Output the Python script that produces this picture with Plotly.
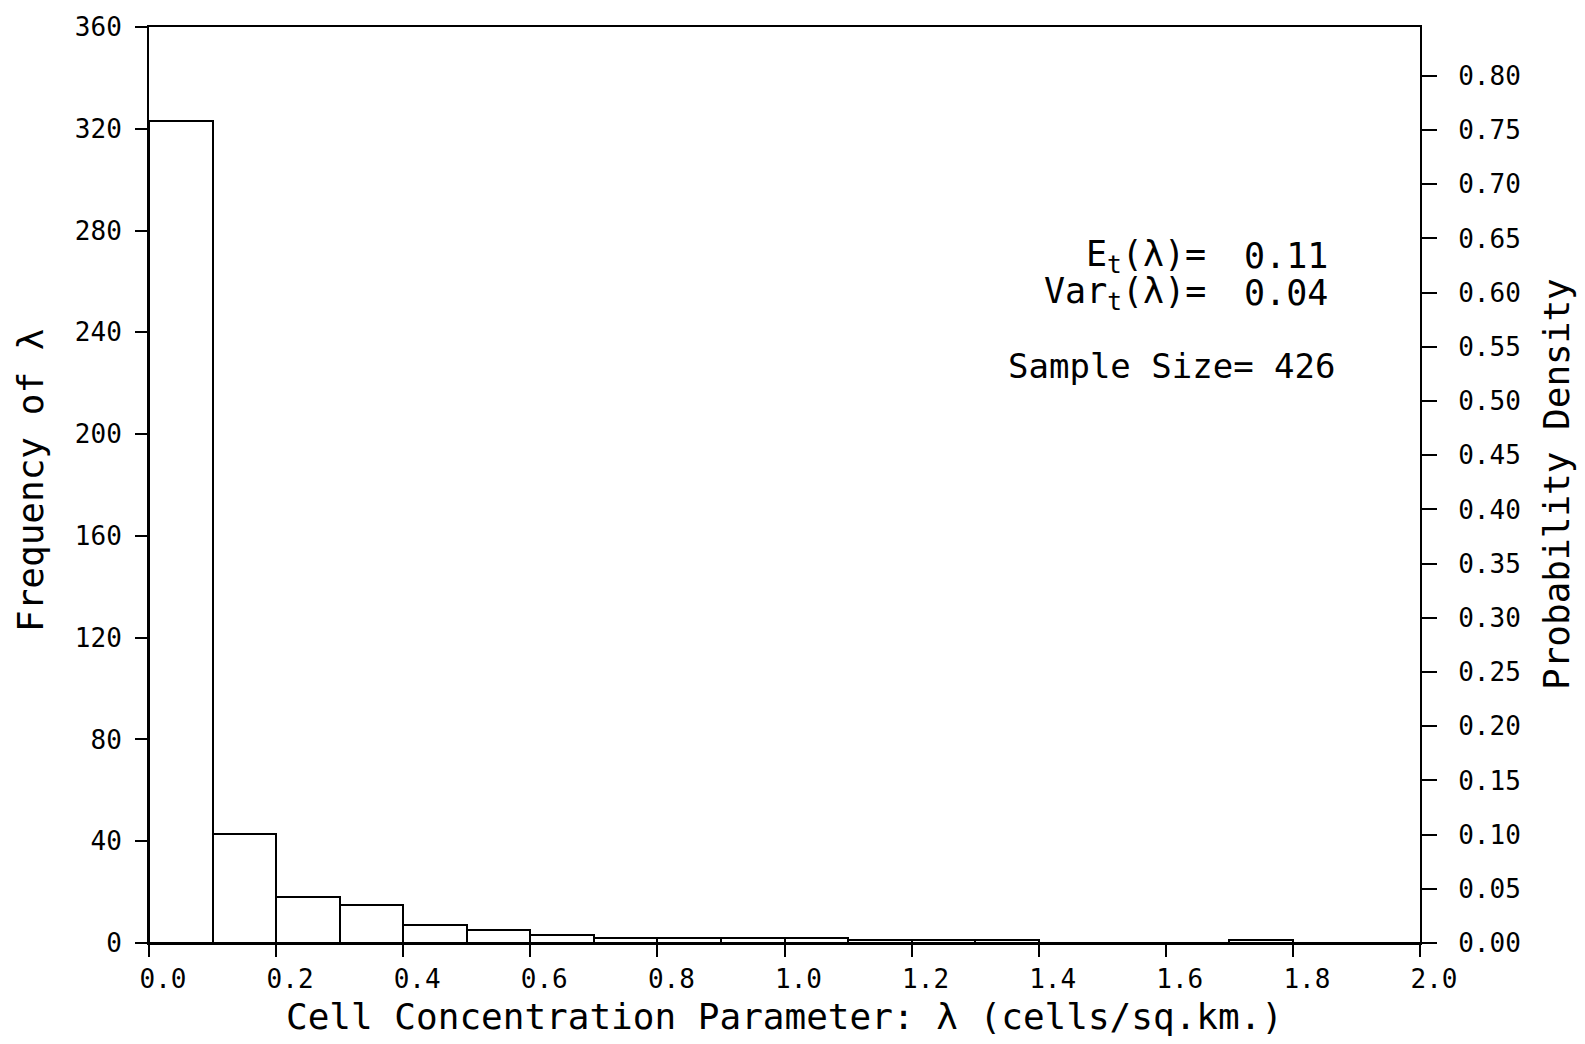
import plotly.graph_objects as go

# Histogram of the cell concentration parameter (bin width 0.1)
bin_left = [0.0, 0.1, 0.2, 0.3, 0.4, 0.5, 0.6, 0.7, 0.8, 0.9,
            1.0, 1.1, 1.2, 1.3, 1.4, 1.5, 1.6, 1.7, 1.8, 1.9]
frequency = [323, 43, 18, 15, 7, 5, 3, 2, 2, 2,
             2, 1, 1, 1, 0, 0, 0, 1, 0, 0]
sample_size = 426
bin_width = 0.1

freq_ticks = [0, 40, 80, 120, 160, 200, 240, 280, 320, 360]
x_ticks = [0.0, 0.2, 0.4, 0.6, 0.8, 1.0, 1.2, 1.4, 1.6, 1.8, 2.0]
prob_ticks = [0.00, 0.05, 0.10, 0.15, 0.20, 0.25, 0.30, 0.35, 0.40,
              0.45, 0.50, 0.55, 0.60, 0.65, 0.70, 0.75, 0.80]

stats_labels = ["E<sub>t</sub>(λ)=", "Var<sub>t</sub>(λ)="]
stats_values = ["0.11", "0.04"]

FONT = "DejaVu Sans Mono"
centers = [b + bin_width / 2 for b in bin_left]
prob = [f / sample_size for f in frequency]

fig = go.Figure()
fig.add_trace(go.Bar(
    x=centers, y=frequency, width=bin_width,
    marker=dict(color="white", line=dict(color="black", width=2)),
    hoverinfo="x+y", showlegend=False,
))
# Same bins on the probability scale (right axis), kept invisible
fig.add_trace(go.Bar(
    x=centers, y=prob, width=bin_width, yaxis="y2",
    marker=dict(color="rgba(0,0,0,0)", line=dict(width=0)),
    hoverinfo="skip", showlegend=False,
))

fig.update_layout(
    width=1585, height=1044,
    margin=dict(l=149, r=165, t=21, b=101),
    paper_bgcolor="white", plot_bgcolor="white",
    font=dict(family=FONT, color="black", size=26),
    bargap=0, barmode="overlay",
    xaxis=dict(
        range=[0, 2.0], tickvals=x_ticks, tickformat=".1f",
        showline=True, linecolor="black", linewidth=2, mirror=True,
        ticks="outside", ticklen=12, tickwidth=2, tickcolor="black",
        showgrid=False, zeroline=False, ticklabelshift=14,
        tickfont=dict(family=FONT, size=26),
    ),
    yaxis=dict(
        range=[0, 360], tickvals=freq_ticks,
        showline=True, linecolor="black", linewidth=2,
        ticks="outside", ticklen=12, tickwidth=2, tickcolor="black",
        showgrid=False, zeroline=False, ticklabelstandoff=8,
        tickfont=dict(family=FONT, size=26),
    ),
    yaxis2=dict(
        range=[0, 360 / sample_size], tickvals=prob_ticks, tickformat=".2f",
        overlaying="y", side="right", anchor="x",
        showline=True, linecolor="black", linewidth=2,
        ticks="outside", ticklen=15, tickwidth=2, tickcolor="black",
        showgrid=False, zeroline=False, ticklabelstandoff=16,
        tickfont=dict(family=FONT, size=26),
    ),
)

# Plot-area geometry in pixels, used to place text in paper units
X0, X1, Y0, Y1 = 149, 1420, 943, 21


def px(x):
    return (x - X0) / (X1 - X0)


def py(y):
    return (Y0 - y) / (Y0 - Y1)


title_font = dict(family=FONT, size=36, color="black")

fig.add_annotation(text="Cell Concentration Parameter: λ (cells/sq.km.)",
                   xref="paper", yref="paper", x=px(784), y=py(1017),
                   xanchor="center", yanchor="middle", showarrow=False,
                   font=title_font)
fig.add_annotation(text="Frequency of λ", textangle=-90,
                   xref="paper", yref="paper", x=px(30), y=py(478),
                   xanchor="center", yanchor="middle", showarrow=False,
                   font=title_font)
fig.add_annotation(text="Probability Density", textangle=-90,
                   xref="paper", yref="paper", x=px(1556), y=py(481),
                   xanchor="center", yanchor="middle", showarrow=False,
                   font=title_font)

for i, (lab, val) in enumerate(zip(stats_labels, stats_values)):
    yc = 252 + 37 * i
    fig.add_annotation(text=lab, xref="paper", yref="paper",
                       x=px(1208), y=py(yc), xanchor="right", yanchor="middle",
                       showarrow=False, font=dict(family=FONT, size=35))
    fig.add_annotation(text=val, xref="paper", yref="paper",
                       x=px(1242), y=py(yc), xanchor="left", yanchor="middle",
                       showarrow=False, font=dict(family=FONT, size=35))

fig.add_annotation(text=f"Sample Size= {sample_size}", xref="paper", yref="paper",
                   x=px(1338), y=py(362), xanchor="right", yanchor="middle",
                   showarrow=False, font=dict(family=FONT, size=34))

fig.write_html("out.html")
